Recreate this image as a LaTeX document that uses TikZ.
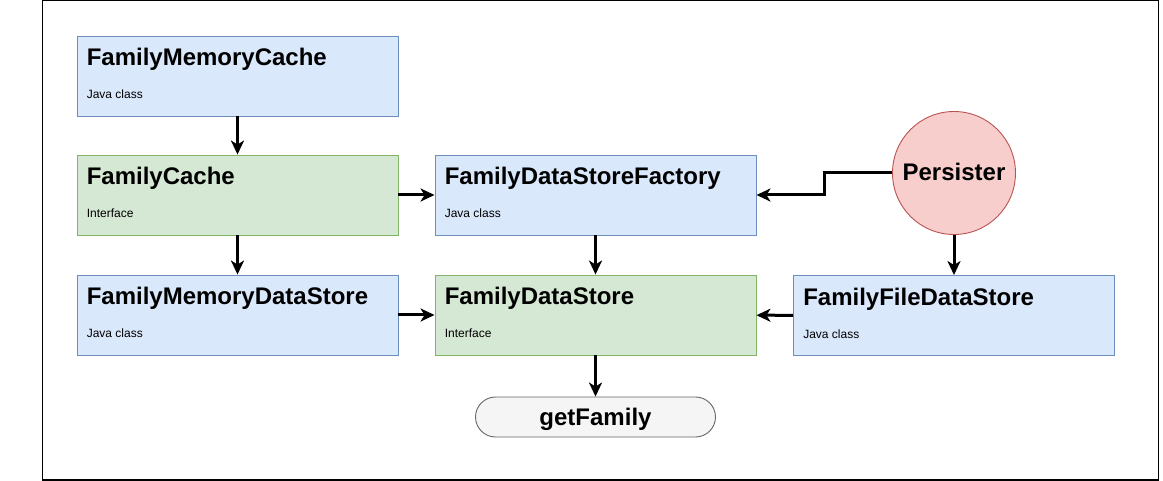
\documentclass[tikz,border=0pt]{standalone}
\usepackage{fontspec}
\setmainfont{Liberation Sans}
\usetikzlibrary{arrows.meta,calc}
\definecolor{bfill}{HTML}{DAE8FC}
\definecolor{bdraw}{HTML}{6C8EBF}
\definecolor{gfill}{HTML}{D5E8D4}
\definecolor{gdraw}{HTML}{82B366}
\definecolor{rfill}{HTML}{F8CECC}
\definecolor{rdraw}{HTML}{B85450}
\definecolor{pfill}{HTML}{F5F5F5}
\definecolor{pdraw}{HTML}{666666}
\tikzset{
  box/.style={rectangle, minimum width=321pt, minimum height=80pt, inner sep=0pt, line width=0.9pt},
  bluebox/.style={box, fill=bfill, draw=bdraw},
  greenbox/.style={box, fill=gfill, draw=gdraw},
  ttl/.style={anchor=base west, inner sep=0pt, font=\fontsize{24}{28}\selectfont\bfseries},
  sub/.style={anchor=base west, inner sep=0pt, font=\fontsize{12}{14}\selectfont},
  arr/.style={line width=3pt, -{Stealth[length=14pt,width=13pt,inset=4pt]}},
}
\newcommand{\boxtext}[3]{%
  \node[ttl] at ($(#1.north west)+(10,30)$) {#2};
  \node[sub] at ($(#1.north west)+(10,63)$) {#3};}
\begin{document}
\begin{tikzpicture}[x=1pt,y=-1pt]
\useasboundingbox (0,0) rectangle (1163,481);
\draw[line width=1.3pt] (42.5,0.8) rectangle (1158.5,480);
% boxes
\node[bluebox] (fmc) at (237.5,76) {};
\boxtext{fmc}{FamilyMemoryCache}{Java class}
\node[greenbox] (fc) at (237.5,195) {};
\boxtext{fc}{FamilyCache}{Interface}
\node[bluebox] (fmds) at (237.5,315) {};
\boxtext{fmds}{FamilyMemoryDataStore}{Java class}
\node[bluebox] (fdsf) at (595.5,195) {};
\boxtext{fdsf}{FamilyDataStoreFactory}{Java class}
\node[greenbox] (fds) at (595.5,315) {};
\boxtext{fds}{FamilyDataStore}{Interface}
\node[bluebox] (ffds) at (954,315.5) {};
\boxtext{ffds}{FamilyFileDataStore}{Java class}
\node[circle, minimum size=123pt, inner sep=0pt, fill=rfill, draw=rdraw, line width=0.9pt] (pers) at (954,173) {};
\node[ttl, anchor=base] at ($(pers.center)+(0,8)$) {Persister};
\node[rectangle, rounded corners=20pt, minimum width=240pt, minimum height=40pt, inner sep=0pt,
  fill=pfill, draw=pdraw, line width=0.9pt] (gf) at (595.5,417) {};
\node[ttl, anchor=base] at ($(gf.center)+(0,8)$) {getFamily};
% connectors
\draw[arr] (fmc) -- (fc);
\draw[arr] (fc) -- (fmds);
\draw[arr] (fc) -- (fdsf);
\draw[arr] (fmds) -- (fds);
\draw[arr] (fdsf) -- (fds);
\draw[arr] (fds) -- (gf);
\draw[arr] (ffds) -- (fds);
\draw[arr] (pers) -- (ffds);
\draw[arr] (pers.west) -- ++(-68,0) |- (fdsf.east);
\end{tikzpicture}
\end{document}
